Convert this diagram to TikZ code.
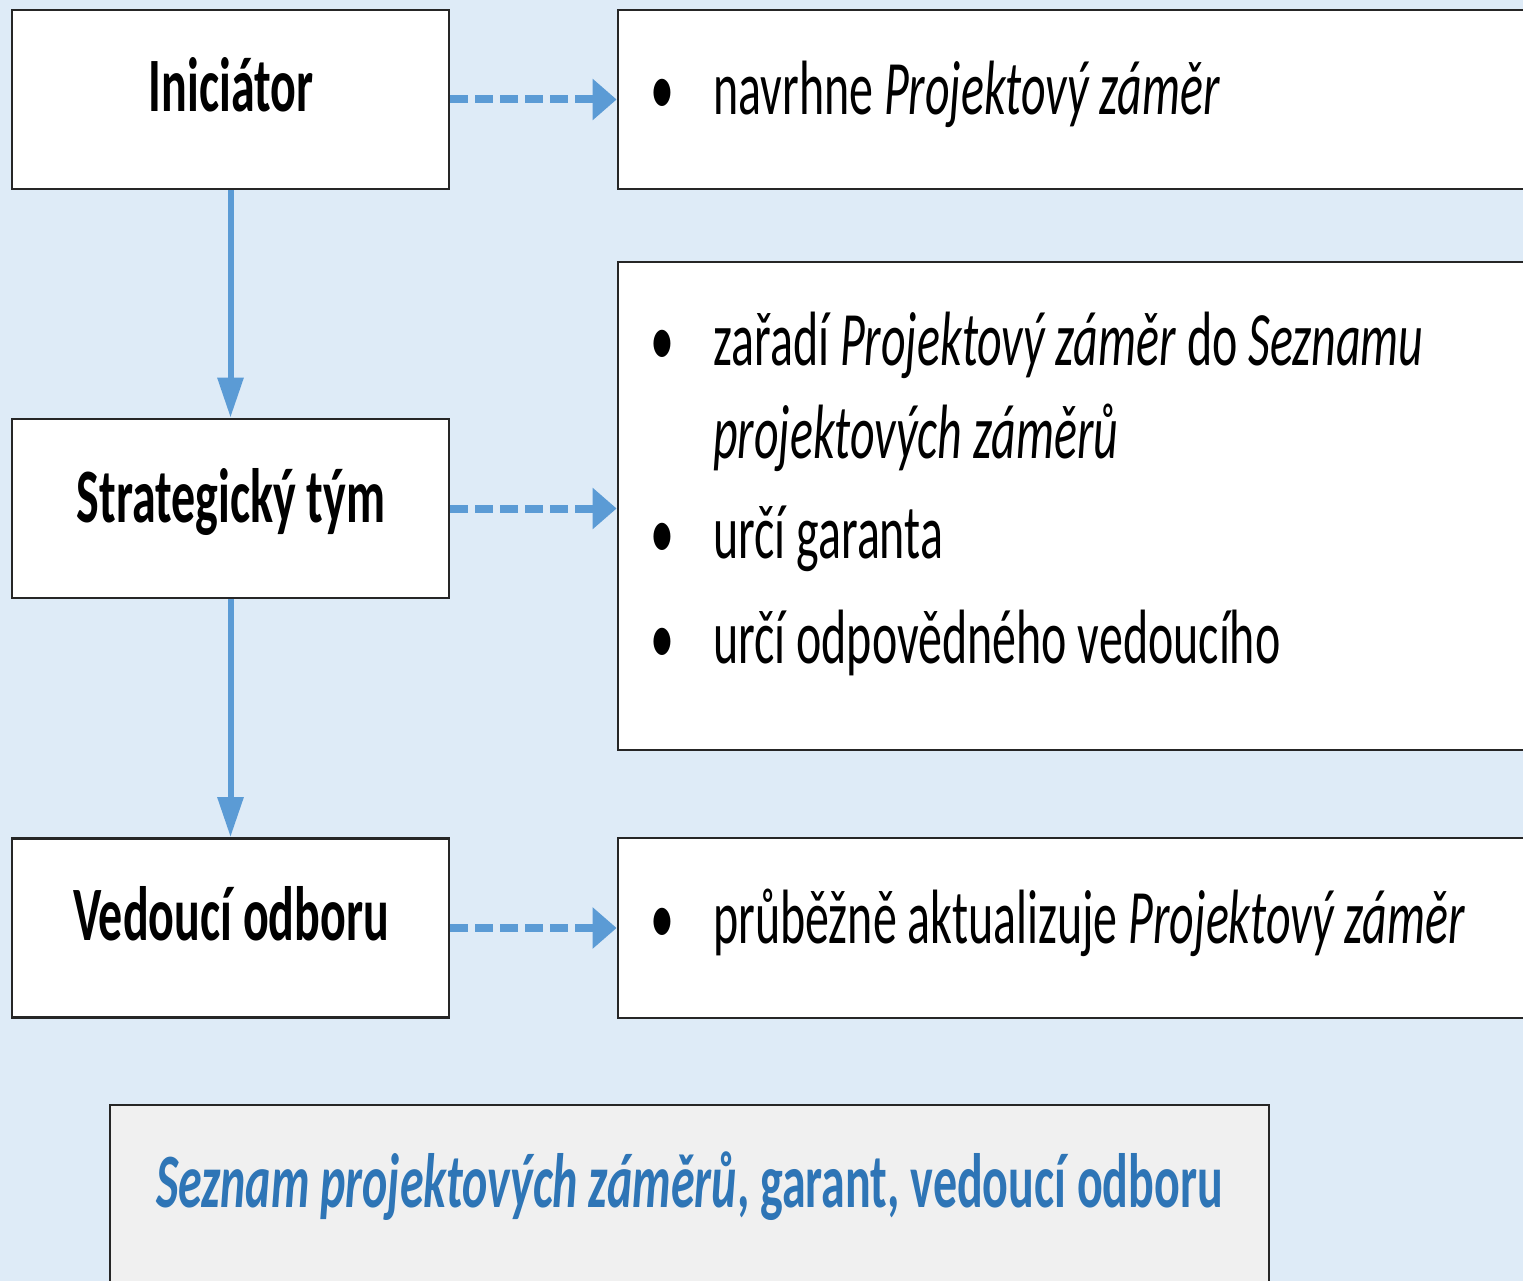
\documentclass[tikz,border=0pt]{standalone}
\usepackage{fontspec}
\setmainfont{Carlito}[FakeStretch=0.623]
\usetikzlibrary{arrows.meta}
\definecolor{bg}{HTML}{DEEBF7}
\definecolor{arr}{HTML}{5B9BD5}
\definecolor{dblue}{HTML}{2E75B6}
\definecolor{boxline}{HTML}{262626}
\definecolor{gbox}{HTML}{F0F0F0}
\tikzset{
  box/.style={draw=boxline, line width=2.8pt, fill=white, rectangle, inner sep=0pt},
  lbox/.style={box, minimum width=437pt, minimum height=179pt},
  hdr/.style={anchor=base, inner sep=0pt, font=\fontsize{77}{94}\selectfont\bfseries},
  body/.style={anchor=base west, inner sep=0pt, font=\fontsize{77}{94}\selectfont},
  dasharrow/.style={draw=arr, line width=8pt, dash pattern=on 18pt off 7pt, -{Triangle[length=24pt,width=40pt]}},
  vertarrow/.style={draw=arr, line width=6pt, -{Triangle[length=40pt,width=25pt]}}
}
\newcommand{\bul}{\makebox[63pt][l]{\textbullet}}
\begin{document}
\begin{tikzpicture}[x=1pt,y=-1pt]
\useasboundingbox (0,0) rectangle (1523,1281);
\clip (0,0) rectangle (1523,1281);
\fill[bg] (0,0) rectangle (1523,1281);

% left boxes
\node[lbox] (ini) at (230.5,99.5) {};
\node[lbox] (st) at (230.5,508.5) {};
\node[lbox] (ved) at (230.5,928) {};
\node[hdr] (ini-t) at (231,112) {Iniciátor};
\node[hdr] (st-t) at (231,522) {Strategický tým};
\node[hdr] (ved-t) at (231,940) {Vedoucí odboru};

% right boxes
\node[box, minimum width=927pt, minimum height=179pt] (r1) at (1081.5,99.5) {};
\node[box, minimum width=927pt, minimum height=488pt] (r2) at (1081.5,506) {};
\node[box, minimum width=927pt, minimum height=180pt] (r3) at (1081.5,928) {};

\node[body] (r1-a) at (650,115) {\bul navrhne \textit{Projektový záměr}};
\node[body] (r2-a) at (650,365) {\bul zařadí \textit{Projektový záměr} do \textit{Seznamu}};
\node[body] (r2-b) at (713,458) {\textit{projektových záměrů}};
\node[body] (r2-c) at (650,558) {\bul určí garanta};
\node[body] (r2-d) at (650,663) {\bul určí odpovědného vedoucího};
\node[body] (r3-a) at (650,943) {\bul průběžně aktualizuje \textit{Projektový záměr}};

% bottom box
\node[box, fill=gbox, minimum width=1159pt, minimum height=240pt] (sez) at (689.5,1225) {};
\node[hdr, text=dblue] (sez-t) at (689.5,1207) {\textit{Seznam projektových záměrů}, garant, vedoucí odboru};

% arrows
\draw[vertarrow] (ini.south) -- (st.north);
\draw[vertarrow] (st.south) -- (ved.north);
\draw[dasharrow] (ini.east) -- (r1.west);
\draw[dasharrow] (st.east) -- (st.east -| r2.west);
\draw[dasharrow] (ved.east) -- (r3.west);
\end{tikzpicture}
\end{document}
